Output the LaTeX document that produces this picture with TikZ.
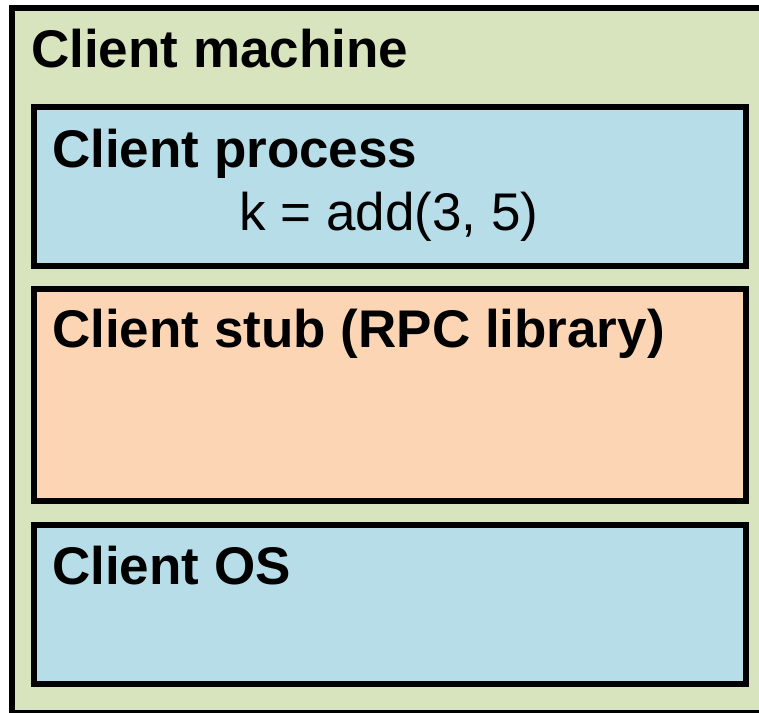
\documentclass[tikz,border=0pt]{standalone}
\usepackage{fontspec}
\setmainfont{Liberation Sans}
\usetikzlibrary{shadows}
\definecolor{machinegreen}{HTML}{D7E4BD}
\definecolor{layerblue}{HTML}{B7DDE8}
\definecolor{layerpeach}{HTML}{FCD5B5}
\tikzset{
  layerbox/.style={draw=black, line width=6pt, drop shadow={shadow xshift=2pt, shadow yshift=-3pt, opacity=0.3}},
  outerbox/.style={draw=black, line width=6pt, fill=machinegreen},
  titletext/.style={anchor=base west, inner sep=0pt, font=\fontsize{53}{60}\selectfont\bfseries},
  codetext/.style={anchor=base west, inner sep=0pt, font=\fontsize{53}{60}\selectfont}
}
\begin{document}
\begin{tikzpicture}[x=1pt,y=-1pt]
\useasboundingbox (0,0) rectangle (759,712);
\begin{scope}
\clip (0,0) rectangle (759,712);
\draw[outerbox] (12,7.5) rectangle (775,712.5);
\end{scope}
\node[titletext] (machine) at (31,67) {Client machine};
\draw[layerbox, fill=layerblue] (34,107) rectangle (746,265.5);
\node[titletext] (process) at (52,167) {Client process};
\node[codetext] (call) at (239,230) {k = add(3, 5)};
\draw[layerbox, fill=layerpeach] (34,288.5) rectangle (746,501);
\node[titletext] (stub) at (52,347) {Client stub (RPC library)};
\draw[layerbox, fill=layerblue] (34,525) rectangle (746,683.5);
\node[titletext] (os) at (52,584) {Client OS};
\end{tikzpicture}
\end{document}
